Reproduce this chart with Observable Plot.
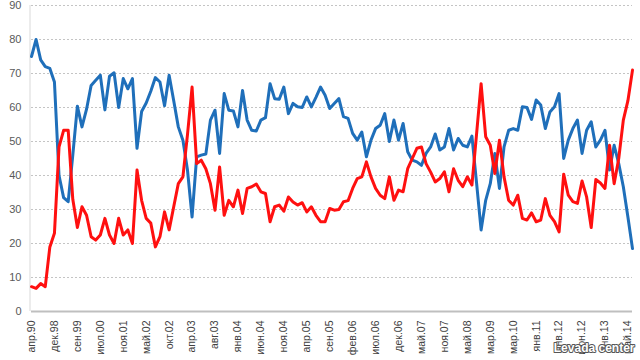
<!DOCTYPE html>
<html>
<head>
<meta charset="utf-8">
<script src="https://cdn.jsdelivr.net/npm/d3@7"></script>
<script src="https://cdn.jsdelivr.net/npm/@observablehq/plot@0.6"></script>
<style>
  html, body { margin: 0; padding: 0; background: #fff; }
</style>
</head>
<body>
<div id="chart"></div>
<script>
const tickLabels = ["апр.90","дек.98","сен.99","июл.00","ноя.01","май.02","окт.02","апр.03","авг.03","янв.04","июн.04","ноя.04","апр.05","сен.05","фев.06","июл.06","дек.06","май.07","ноя.07","май.08","мар.09","мар.10","янв.11","янв.12","июн.12","янв.13","май.14"];

const yTicks = [0, 10, 20, 30, 40, 50, 60, 70, 80, 90];

const blueValues = [
  75, 80, 74, 72, 71.5, 67.5, 40, 33.5, 32.3, 46,
  60.4, 54.3, 59.5, 66.5, 68, 69.5, 59.3, 69.2, 70.2, 60,
  68.5, 65.5, 68.5, 48, 58.8, 61.3, 64.8, 68.8, 67.5, 60.5,
  69.5, 62, 54.3, 50.4, 41.6, 27.8, 45.5, 46, 46.3, 56.3,
  59.2, 46.5, 64.1, 59.2, 59, 54.3, 65, 56.3, 53.3, 53.1,
  56.3, 57, 67, 62.6, 62.4, 66, 58.2, 61.2, 60.2, 60,
  63.1, 60.2, 63, 66, 63.6, 59.7, 61.2, 62.6, 57.3, 56.8,
  52.4, 50.4, 52.8, 45.5, 50.4, 53.8, 54.8, 58.2, 50, 56.3,
  50.4, 55.3, 47, 44.5, 44, 43, 46.5, 48.4, 52.2, 47.5,
  48.4, 53.8, 47.5, 50.9, 48.9, 48.4, 51.6, 38, 24, 32.7,
  37.6, 46.5, 36.2, 48.4, 53.3, 53.8, 53.3, 60.2, 60, 56.5,
  62.2, 60.7, 53.8, 58.7, 60.2, 64.1, 45, 50.4, 53.8, 56.3,
  46.5, 53.3, 55.8, 48.4, 50.4, 53.3, 41.6, 48.9, 43.5, 36.7,
  27.8, 18.5
];

const redValues = [
  7.3, 6.8, 8.2, 7.3, 19, 23, 48.4, 53.3, 53.3, 33,
  24.7, 30.8, 28.3, 22, 21, 22.5, 27.4, 22.5, 20, 27.4,
  22.5, 24, 20, 41.6, 32.7, 27.4, 26, 19, 22, 29.3,
  24, 30.8, 37.6, 39.6, 52, 66, 43.5, 44.5, 42, 37.6,
  29.8, 42.5, 28.3, 32.7, 30.8, 35.7, 28.8, 36.2, 36.7, 37.5,
  35.2, 34.7, 26.4, 30.8, 31.3, 29.5, 33.7, 32.2, 31.3, 32,
  29.3, 30.8, 28.3, 26.4, 26.4, 30.3, 29.8, 30, 32.3, 32.6,
  36.2, 39.1, 39.6, 44, 39.6, 36.2, 34.2, 33.2, 39.6, 32.7,
  35.7, 35.2, 42, 45, 48, 48.4, 43.5, 41, 38.1, 39.1,
  41.1, 35.2, 42, 38.6, 36.7, 39.6, 37.2, 52, 67, 51.4,
  48.9, 40.6, 50.4, 39.6, 32.7, 31.3, 34.2, 27.4, 26.9, 29,
  26.4, 26.9, 33.2, 28.3, 26.4, 23.4, 40.4, 34.2, 32.3, 31.8,
  38.4, 33.7, 24.7, 38.8, 37.8, 36.2, 48.9, 37.6, 45, 56.3,
  62, 71
];

const watermark = ["Levada center"];

const blueData = blueValues.map((v, i) => ({i, v}));
const redData = redValues.map((v, i) => ({i, v}));
const xTicks = tickLabels.map((_, k) => k * 5);

const chart = Plot.plot({
  width: 640,
  height: 360,
  marginLeft: 31,
  marginRight: 8,
  marginTop: 5,
  marginBottom: 49,
  style: {fontFamily: "'Liberation Sans', Arial, sans-serif", background: "#fff", color: "#595959"},
  x: {domain: [0, blueValues.length - 1], label: null},
  y: {domain: [0, 90], label: null},
  marks: [
    Plot.ruleY(yTicks.filter(d => d > 0), {stroke: "#c4c4c4", strokeDasharray: "2,2", strokeWidth: 1}),
    Plot.ruleX([0], {stroke: "#d9d9d9", dx: -1.5}),
    Plot.ruleY([0], {stroke: "#bfbfbf", strokeWidth: 2, x1: 0, x2: blueValues.length - 1}),
    Plot.axisY({ticks: yTicks, tickSize: 0, tickPadding: 10, fontSize: 11}),
    Plot.axisX({ticks: xTicks, tickFormat: d => tickLabels[d / 5], tickRotate: -90, tickSize: 0, tickPadding: 9, fontSize: 10.5, color: "#404040"}),
    Plot.line(blueData, {x: "i", y: "v", stroke: "#1f6fba", strokeWidth: 3, strokeLinejoin: "round"}),
    Plot.line(redData, {x: "i", y: "v", stroke: "#ff1010", strokeWidth: 3, strokeLinejoin: "round"}),
    Plot.text(watermark, {frameAnchor: "bottom-right", dy: 40, dx: 2, textAnchor: "end", fontSize: 12, fontWeight: "bold", fill: "#ffffff", stroke: "#555555", strokeWidth: 2, paintOrder: "stroke"})
  ]
});

document.getElementById("chart").appendChild(chart);
</script>
</body>
</html>
